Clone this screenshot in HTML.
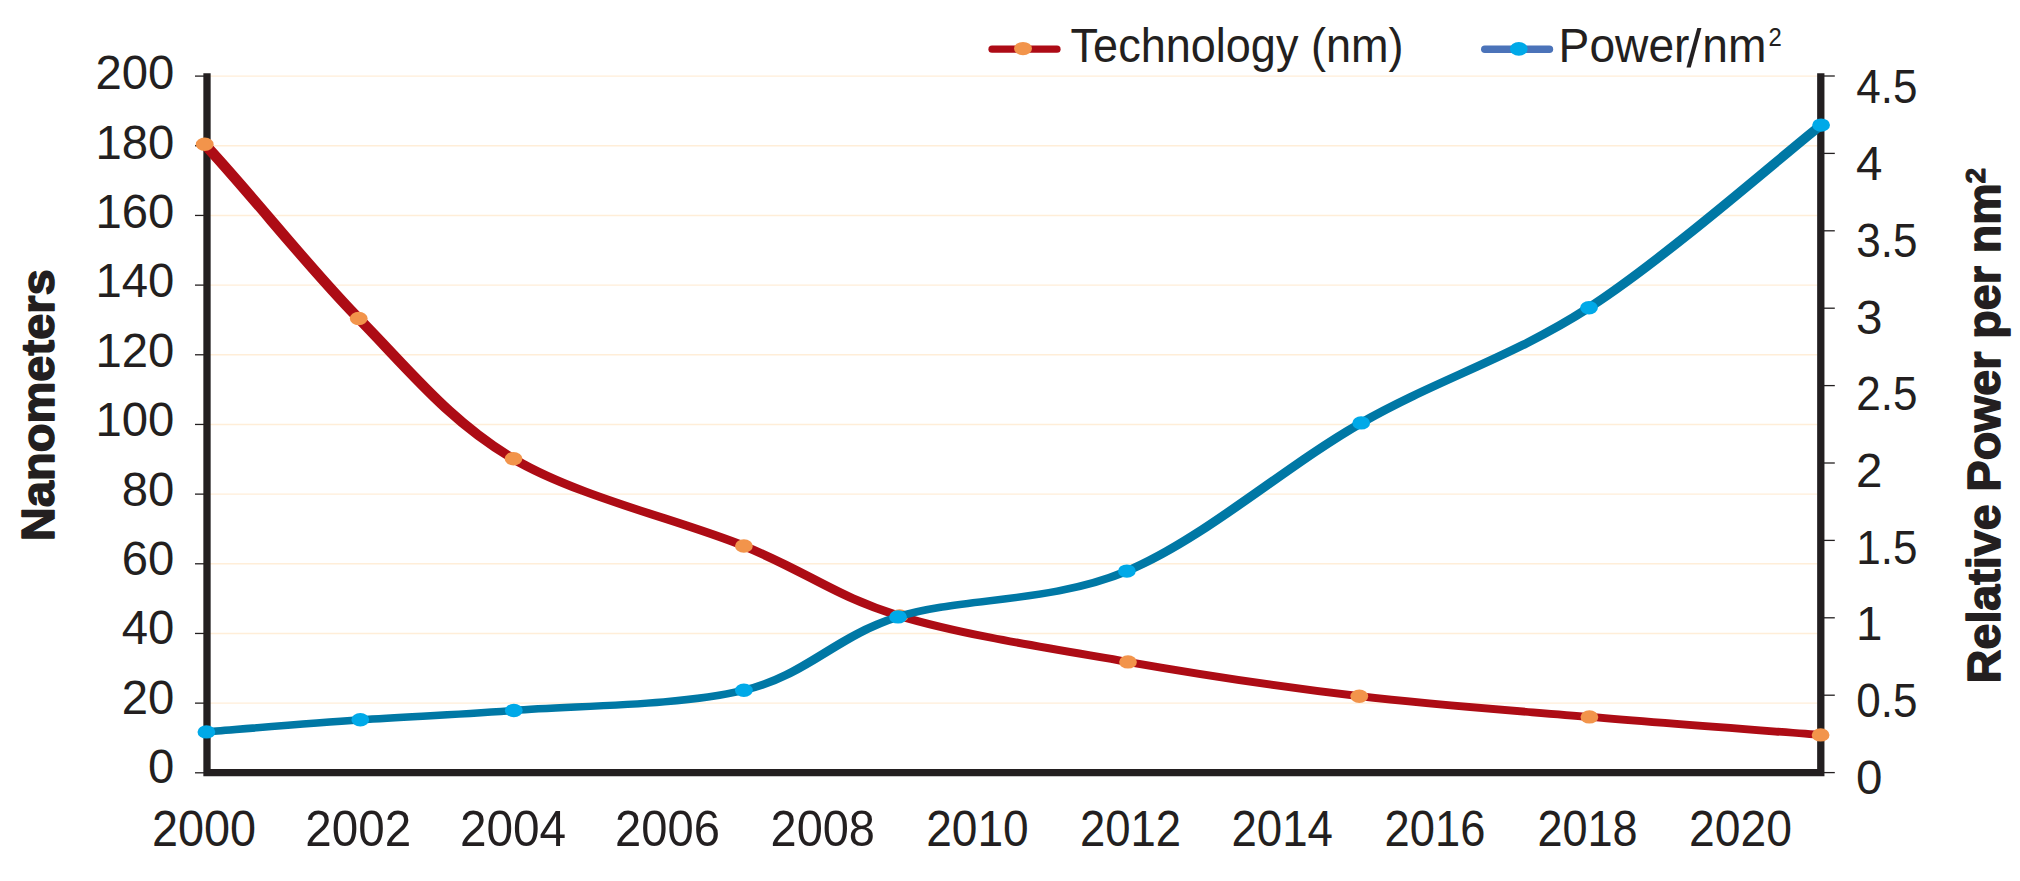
<!DOCTYPE html>
<html lang="en"><head><meta charset="utf-8"><title>Technology (nm) vs Power/nm2</title>
<style>html,body{margin:0;padding:0;background:#fff}body{width:2020px;height:881px;overflow:hidden}svg{display:block}text{font-family:"Liberation Sans",Arial,sans-serif;fill:#231f20}.t{font-size:48px}.b{font-weight:bold;font-size:47px;stroke:#231f20;stroke-width:1.5px;stroke-linejoin:round}</style></head><body>
<svg width="2020" height="881" viewBox="0 0 2020 881">
<rect width="2020" height="881" fill="#fff"/>
<g stroke="#ffeed8" stroke-width="1.4">
<line x1="210" y1="703.13" x2="1817.5" y2="703.13"/>
<line x1="210" y1="633.46" x2="1817.5" y2="633.46"/>
<line x1="210" y1="563.79" x2="1817.5" y2="563.79"/>
<line x1="210" y1="494.12" x2="1817.5" y2="494.12"/>
<line x1="210" y1="424.45" x2="1817.5" y2="424.45"/>
<line x1="210" y1="354.78" x2="1817.5" y2="354.78"/>
<line x1="210" y1="285.11" x2="1817.5" y2="285.11"/>
<line x1="210" y1="215.44" x2="1817.5" y2="215.44"/>
<line x1="210" y1="145.77" x2="1817.5" y2="145.77"/>
<line x1="210" y1="76.10" x2="1817.5" y2="76.10"/>
</g>
<g stroke="#231f20" stroke-width="1.3">
<line x1="195" y1="772.80" x2="204" y2="772.80"/>
<line x1="195" y1="703.13" x2="204" y2="703.13"/>
<line x1="195" y1="633.46" x2="204" y2="633.46"/>
<line x1="195" y1="563.79" x2="204" y2="563.79"/>
<line x1="195" y1="494.12" x2="204" y2="494.12"/>
<line x1="195" y1="424.45" x2="204" y2="424.45"/>
<line x1="195" y1="354.78" x2="204" y2="354.78"/>
<line x1="195" y1="285.11" x2="204" y2="285.11"/>
<line x1="195" y1="215.44" x2="204" y2="215.44"/>
<line x1="195" y1="145.77" x2="204" y2="145.77"/>
<line x1="195" y1="76.10" x2="204" y2="76.10"/>
<line x1="1824" y1="772.60" x2="1834.8" y2="772.60"/>
<line x1="1824" y1="695.20" x2="1834.8" y2="695.20"/>
<line x1="1824" y1="617.80" x2="1834.8" y2="617.80"/>
<line x1="1824" y1="540.40" x2="1834.8" y2="540.40"/>
<line x1="1824" y1="463.00" x2="1834.8" y2="463.00"/>
<line x1="1824" y1="385.60" x2="1834.8" y2="385.60"/>
<line x1="1824" y1="308.20" x2="1834.8" y2="308.20"/>
<line x1="1824" y1="230.80" x2="1834.8" y2="230.80"/>
<line x1="1824" y1="153.40" x2="1834.8" y2="153.40"/>
<line x1="1824" y1="76.00" x2="1834.8" y2="76.00"/>
</g>
<path d="M207.00,73.20 V772.60 H1820.80 V73.20" fill="none" stroke="#231f20" stroke-width="7.30" stroke-linejoin="miter"/>
<path transform="scale(1.6,1)" d="M127.94,144.20 C160.77,201.10 192.02,266.07 224.19,318.50 C256.35,370.93 280.81,420.88 320.94,458.80 C361.06,496.72 424.73,519.82 464.94,546.00 C505.15,572.18 522.18,596.58 562.19,615.90 C602.20,635.22 657.10,648.52 705.00,661.90 C752.90,675.28 801.50,687.03 849.56,696.20 C897.62,705.37 945.32,710.45 993.38,716.90 C1041.43,723.35 1113.79,731.90 1137.87,734.90" fill="none" stroke="#ad0c15" stroke-width="7.8"/>
<g fill="#f2944b">
<ellipse cx="204.70" cy="144.20" rx="8.9" ry="6.7"/>
<ellipse cx="358.70" cy="318.50" rx="8.9" ry="6.7"/>
<ellipse cx="513.50" cy="458.80" rx="8.9" ry="6.7"/>
<ellipse cx="743.90" cy="546.00" rx="8.9" ry="6.7"/>
<ellipse cx="899.50" cy="615.90" rx="8.9" ry="6.7"/>
<ellipse cx="1128.00" cy="661.90" rx="8.9" ry="6.7"/>
<ellipse cx="1359.30" cy="696.20" rx="8.9" ry="6.7"/>
<ellipse cx="1589.40" cy="716.90" rx="8.9" ry="6.7"/>
<ellipse cx="1820.60" cy="734.90" rx="8.9" ry="6.7"/>
</g>
<path transform="scale(1.6,1)" d="M129.00,731.90 C145.03,729.88 193.17,723.37 225.19,719.80 C257.21,716.23 281.17,715.42 321.12,710.50 C361.08,705.58 424.91,705.90 464.94,690.30 C504.96,674.70 521.39,636.77 561.28,616.90 C601.18,597.03 656.07,603.43 704.31,571.10 C752.56,538.77 802.61,466.80 850.75,422.90 C898.89,379.00 945.22,357.33 993.12,307.70 C1041.03,258.07 1114.01,155.53 1138.19,125.10" fill="none" stroke="#0078a5" stroke-width="7.5"/>
<g fill="#00a9e8">
<ellipse cx="206.40" cy="731.90" rx="8.9" ry="6.7"/>
<ellipse cx="360.30" cy="719.80" rx="8.9" ry="6.7"/>
<ellipse cx="513.80" cy="710.50" rx="8.9" ry="6.7"/>
<ellipse cx="743.90" cy="690.30" rx="8.9" ry="6.7"/>
<ellipse cx="898.05" cy="616.90" rx="8.9" ry="6.7"/>
<ellipse cx="1126.90" cy="571.10" rx="8.9" ry="6.7"/>
<ellipse cx="1361.20" cy="422.90" rx="8.9" ry="6.7"/>
<ellipse cx="1589.00" cy="307.70" rx="8.9" ry="6.7"/>
<ellipse cx="1821.10" cy="125.10" rx="8.9" ry="6.7"/>
</g>
<line x1="992" y1="49.2" x2="1057" y2="49.2" stroke="#ad0b16" stroke-width="7.2" stroke-linecap="round"/>
<ellipse cx="1023" cy="48.6" rx="9" ry="6.7" fill="#f2944b"/>
<line x1="1484.8" y1="49.2" x2="1549.4" y2="49.2" stroke="#4b73b9" stroke-width="7.5" stroke-linecap="round"/>
<ellipse cx="1518.8" cy="48.9" rx="8.9" ry="6.8" fill="#00a9e8"/>
<text class="t" transform="translate(1070.60,61.70) scale(0.9385,1)" text-anchor="start">Technology (nm)</text>
<text class="t" transform="translate(1558.60,61.70) scale(0.962,1)" text-anchor="start">Power</text>
<text class="t" transform="translate(1686.40,66.50) scale(1.12,1.118)" text-anchor="start">/</text>
<text class="t" transform="translate(1702.25,61.70) scale(0.962,1)" text-anchor="start">nm</text>
<text class="t" transform="translate(1768.60,46.40) scale(0.9,1)" text-anchor="start" style="font-size:26.5px">2</text>
<text class="t" transform="translate(174.40,783.00) scale(0.985,1.01)" text-anchor="end">0</text>
<text class="t" transform="translate(174.40,713.64) scale(0.985,1.01)" text-anchor="end">20</text>
<text class="t" transform="translate(174.40,644.28) scale(0.985,1.01)" text-anchor="end">40</text>
<text class="t" transform="translate(174.40,574.92) scale(0.985,1.01)" text-anchor="end">60</text>
<text class="t" transform="translate(174.40,505.56) scale(0.985,1.01)" text-anchor="end">80</text>
<text class="t" transform="translate(174.40,436.20) scale(0.985,1.01)" text-anchor="end">100</text>
<text class="t" transform="translate(174.40,366.84) scale(0.985,1.01)" text-anchor="end">120</text>
<text class="t" transform="translate(174.40,297.48) scale(0.985,1.01)" text-anchor="end">140</text>
<text class="t" transform="translate(174.40,228.12) scale(0.985,1.01)" text-anchor="end">160</text>
<text class="t" transform="translate(174.40,158.76) scale(0.985,1.01)" text-anchor="end">180</text>
<text class="t" transform="translate(174.40,89.40) scale(0.985,1.01)" text-anchor="end">200</text>
<text class="t" transform="translate(1856.00,793.90) scale(0.99,1)" text-anchor="start">0</text>
<text class="t" transform="translate(1856.30,717.17) scale(0.918,1)" text-anchor="start">0.5</text>
<text class="t" transform="translate(1856.00,640.44) scale(0.99,1)" text-anchor="start">1</text>
<text class="t" transform="translate(1856.30,563.71) scale(0.918,1)" text-anchor="start">1.5</text>
<text class="t" transform="translate(1856.00,486.98) scale(0.99,1)" text-anchor="start">2</text>
<text class="t" transform="translate(1856.30,410.25) scale(0.918,1)" text-anchor="start">2.5</text>
<text class="t" transform="translate(1856.00,333.52) scale(0.99,1)" text-anchor="start">3</text>
<text class="t" transform="translate(1856.30,256.79) scale(0.918,1)" text-anchor="start">3.5</text>
<text class="t" transform="translate(1856.00,180.06) scale(0.99,1)" text-anchor="start">4</text>
<text class="t" transform="translate(1856.30,103.33) scale(0.918,1)" text-anchor="start">4.5</text>
<text class="t" transform="translate(151.95,845.60) scale(0.9757,1.025)" text-anchor="start">2000</text>
<text class="t" transform="translate(305.32,845.60) scale(0.9922,1.025)" text-anchor="start">2002</text>
<text class="t" transform="translate(459.91,845.60) scale(0.9951,1.025)" text-anchor="start">2004</text>
<text class="t" transform="translate(615.04,845.60) scale(0.9816,1.025)" text-anchor="start">2006</text>
<text class="t" transform="translate(770.54,845.60) scale(0.9777,1.025)" text-anchor="start">2008</text>
<text class="t" transform="translate(926.18,845.60) scale(0.9602,1.025)" text-anchor="start">2010</text>
<text class="t" transform="translate(1079.90,845.60) scale(0.948,1.025)" text-anchor="start">2012</text>
<text class="t" transform="translate(1231.40,845.60) scale(0.9515,1.025)" text-anchor="start">2014</text>
<text class="t" transform="translate(1384.61,845.60) scale(0.9437,1.025)" text-anchor="start">2016</text>
<text class="t" transform="translate(1537.52,845.60) scale(0.9379,1.025)" text-anchor="start">2018</text>
<text class="t" transform="translate(1688.97,845.60) scale(0.9641,1.025)" text-anchor="start">2020</text>
<text class="b" transform="translate(54.2,541.2) rotate(-90)" textLength="272" lengthAdjust="spacingAndGlyphs">Nanometers</text>
<text class="b" transform="translate(2000.1,683.2) rotate(-90)" textLength="500" lengthAdjust="spacingAndGlyphs">Relative Power per nm</text>
<text class="b" transform="translate(1985.3,183.6) rotate(-90)" style="font-size:28px;stroke-width:1px">2</text>
</svg></body></html>
